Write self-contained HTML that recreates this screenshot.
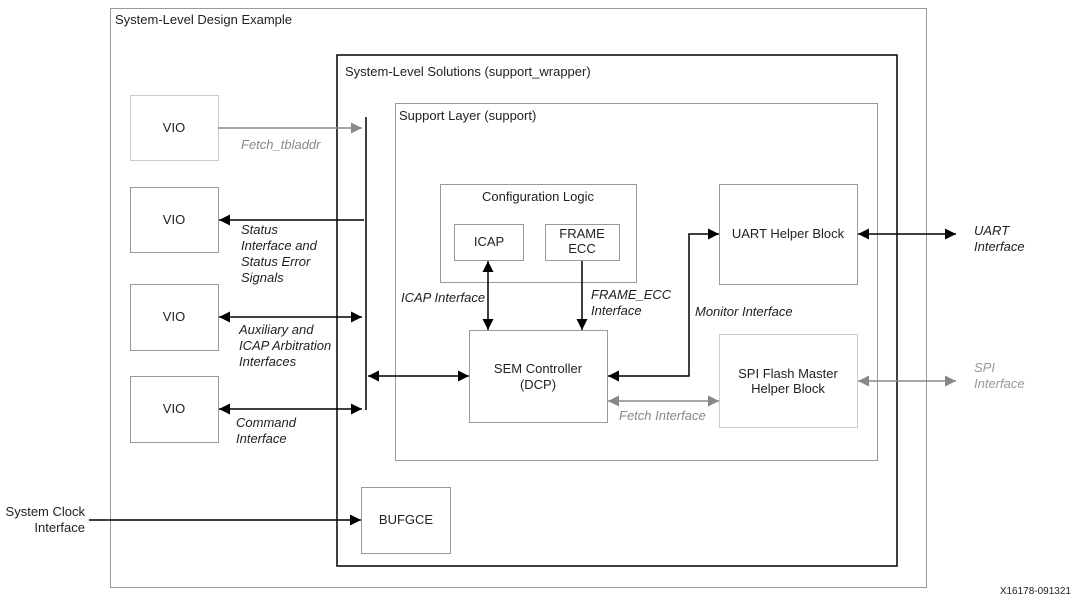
<!DOCTYPE html>
<html><head><style>
html,body{margin:0;padding:0;background:#fff;}
svg{display:block;font-family:"Liberation Sans",sans-serif;}
</style></head><body>
<svg width="1080" height="604" viewBox="0 0 1080 604" xmlns="http://www.w3.org/2000/svg">
<defs>
<marker id="a" viewBox="0 0 10 10" refX="10" refY="5" markerWidth="15" markerHeight="11" markerUnits="userSpaceOnUse" orient="auto-start-reverse"><path d="M0,0L10,5L0,10z" fill="#000"/></marker>
<marker id="g" viewBox="0 0 10 10" refX="10" refY="5" markerWidth="15" markerHeight="11" markerUnits="userSpaceOnUse" orient="auto-start-reverse"><path d="M0,0L10,5L0,10z" fill="#888"/></marker>
</defs>
<g fill="none">
<rect x="110.5" y="8.5" width="816" height="579" stroke="#999"/>
<rect x="337" y="55" width="560" height="511" stroke="#000" stroke-width="1.5"/>
<rect x="395.5" y="103.5" width="482" height="357" stroke="#999"/>
<rect x="130.5" y="95.5" width="88" height="65" stroke="#ccc"/>
<rect x="130.5" y="187.5" width="88" height="65" stroke="#999"/>
<rect x="130.5" y="284.5" width="88" height="66" stroke="#999"/>
<rect x="130.5" y="376.5" width="88" height="66" stroke="#999"/>
<rect x="440.5" y="184.5" width="196" height="98" stroke="#999"/>
<rect x="454.5" y="224.5" width="69" height="36" stroke="#999"/>
<rect x="545.5" y="224.5" width="74" height="36" stroke="#999"/>
<rect x="469.5" y="330.5" width="138" height="92" stroke="#999"/>
<rect x="719.5" y="184.5" width="138" height="100" stroke="#999"/>
<rect x="719.5" y="334.5" width="138" height="93" stroke="#ccc"/>
<rect x="361.5" y="487.5" width="89" height="66" stroke="#999"/>
<line x1="366" y1="117" x2="366" y2="410" stroke="#000" stroke-width="1.5"/>
<line x1="218" y1="128" x2="362" y2="128" stroke="#888" stroke-width="1.5" marker-end="url(#g)"/>
<line x1="364" y1="220" x2="219" y2="220" stroke="#000" stroke-width="1.5" marker-end="url(#a)"/>
<line x1="219" y1="317" x2="362" y2="317" stroke="#000" stroke-width="1.5" marker-start="url(#a)" marker-end="url(#a)"/>
<line x1="219" y1="409" x2="362" y2="409" stroke="#000" stroke-width="1.5" marker-start="url(#a)" marker-end="url(#a)"/>
<line x1="368" y1="376" x2="469" y2="376" stroke="#000" stroke-width="1.5" marker-start="url(#a)" marker-end="url(#a)"/>
<line x1="488" y1="261" x2="488" y2="330" stroke="#000" stroke-width="1.5" marker-start="url(#a)" marker-end="url(#a)"/>
<line x1="582" y1="261" x2="582" y2="330" stroke="#000" stroke-width="1.5" marker-end="url(#a)"/>
<polyline points="608,376 689,376 689,234 719,234" stroke="#000" stroke-width="1.5" marker-start="url(#a)" marker-end="url(#a)"/>
<line x1="858" y1="234" x2="956" y2="234" stroke="#000" stroke-width="1.5" marker-start="url(#a)" marker-end="url(#a)"/>
<line x1="858" y1="381" x2="956" y2="381" stroke="#888" stroke-width="1.5" marker-start="url(#g)" marker-end="url(#g)"/>
<line x1="608" y1="401" x2="719" y2="401" stroke="#888" stroke-width="1.5" marker-start="url(#g)" marker-end="url(#g)"/>
<line x1="89" y1="520" x2="361" y2="520" stroke="#000" stroke-width="1.5" marker-end="url(#a)"/>
</g>
<g font-size="13" fill="#222">
<text x="115" y="24">System-Level Design Example</text>
<text x="345" y="76">System-Level Solutions (support_wrapper)</text>
<text x="399" y="120">Support Layer (support)</text>
<text x="174" y="132" text-anchor="middle">VIO</text>
<text x="174" y="224" text-anchor="middle">VIO</text>
<text x="174" y="321" text-anchor="middle">VIO</text>
<text x="174" y="413" text-anchor="middle">VIO</text>
<text x="538" y="201" text-anchor="middle">Configuration Logic</text>
<text x="489" y="246" text-anchor="middle">ICAP</text>
<text x="582" y="238" text-anchor="middle">FRAME</text>
<text x="582" y="253" text-anchor="middle">ECC</text>
<text x="538" y="373" text-anchor="middle">SEM Controller</text>
<text x="538" y="389" text-anchor="middle">(DCP)</text>
<text x="788" y="238" text-anchor="middle">UART Helper Block</text>
<text x="788" y="378" text-anchor="middle">SPI Flash Master</text>
<text x="788" y="393" text-anchor="middle">Helper Block</text>
<text x="406" y="524" text-anchor="middle">BUFGCE</text>
<text x="85" y="516" text-anchor="end">System Clock</text>
<text x="85" y="532" text-anchor="end">Interface</text>
</g>
<g font-size="13" font-style="italic" fill="#222">
<text x="241" y="149" fill="#888">Fetch_tbladdr</text>
<text x="241" y="234">Status</text>
<text x="241" y="250">Interface and</text>
<text x="241" y="266">Status Error</text>
<text x="241" y="282">Signals</text>
<text x="239" y="334">Auxiliary and</text>
<text x="239" y="350">ICAP Arbitration</text>
<text x="239" y="366">Interfaces</text>
<text x="236" y="427">Command</text>
<text x="236" y="443">Interface</text>
<text x="401" y="302">ICAP Interface</text>
<text x="591" y="299">FRAME_ECC</text>
<text x="591" y="315">Interface</text>
<text x="695" y="316">Monitor Interface</text>
<text x="619" y="420" fill="#888">Fetch Interface</text>
<text x="974" y="235">UART</text>
<text x="974" y="251">Interface</text>
<text x="974" y="372" fill="#999">SPI</text>
<text x="974" y="388" fill="#999">Interface</text>
</g>
<text x="1071" y="594" font-size="10" fill="#222" text-anchor="end">X16178-091321</text>
</svg>
</body></html>
